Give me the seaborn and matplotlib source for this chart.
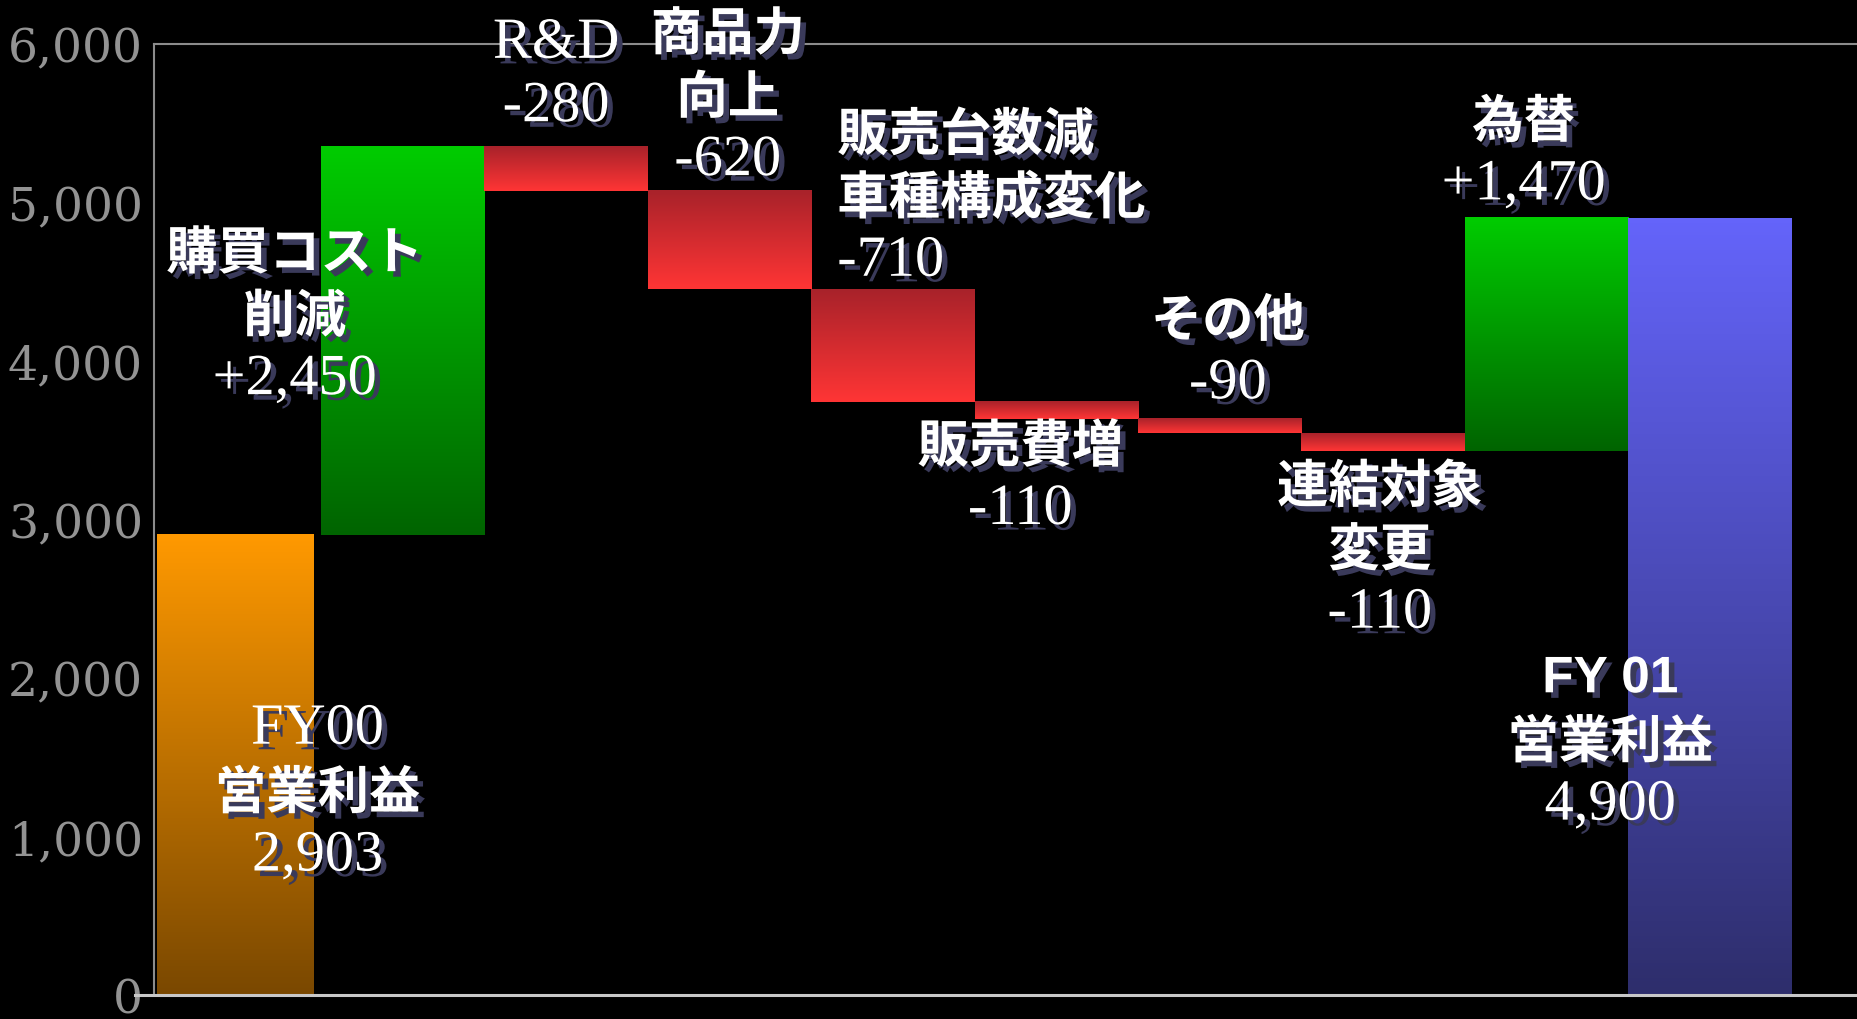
import numpy as np
import pandas as pd
import matplotlib
matplotlib.use("Agg")
import matplotlib.pyplot as plt
import matplotlib.patheffects as pe
from matplotlib.colors import LinearSegmentedColormap
import seaborn as sns

# data
steps = ["FY00営業利益", "購買コスト削減", "R&D", "商品力向上", "販売台数減車種構成変化",
         "販売費増", "その他", "連結対象変更", "為替", "FY01営業利益"]
deltas = [2903, 2450, -280, -620, -710, -110, -90, -110, 1470, 4900]
kinds = ["total", "up", "down", "down", "down", "down", "down", "down", "up", "total"]
titles = [["FY00", "営業利益"], ["購買コスト", "削減"], ["R&D"], ["商品力", "向上"],
          ["販売台数減", "車種構成変化"], ["販売費増"], ["その他"], ["連結対象", "変更"],
          ["為替"], ["FY 01", "営業利益"]]
yticks = [0, 1000, 2000, 3000, 4000, 5000, 6000]

# label anchors (x, y of first line, alignment)
anchors = [(0.48, 1674, "center"), (0.34, 4679, "center"), (1.94, 6001, "center"),
           (2.99, 6061, "center"), (3.66, 5426, "left"), (4.78, 3460, "center"),
           (6.05, 4253, "center"), (6.98, 3206, "center"), (7.86, 5508, "center"),
           (8.39, 1995, "center")]
LINE = 400

grad = {
    "total0": ("#ff9900", "#7a4800"),
    "up": ("#00cc00", "#006400"),
    "down": ("#a8222a", "#ff3535"),
    "total1": ("#6464fa", "#2e2e6c"),
}

JP = ["Noto Sans CJK JP", "DejaVu Sans"]
SERIF = ["Liberation Serif", "DejaVu Serif"]


def waterfall(df):
    fig = plt.figure(figsize=(18.57, 10.2), dpi=100, facecolor="black")
    ax = fig.add_axes([0.083, 0.0235, 0.917, 0.9324])
    ax.set_facecolor("black")

    sns.barplot(data=df, x="step", y="top", order=steps, width=1.0, color="white", ax=ax)

    for i, (patch, row) in enumerate(zip(ax.patches, df.itertuples())):
        patch.set_y(row.bottom)
        patch.set_height(row.top - row.bottom)
        patch.set_facecolor("none")
        patch.set_edgecolor("none")
        key = row.kind
        if key == "total":
            key = "total0" if i == 0 else "total1"
        cmap = LinearSegmentedColormap.from_list(key, grad[key])
        x0 = patch.get_x()
        x1 = x0 + patch.get_width()
        if i == 0:
            x1 -= 0.04  # small gap after the first bar
        ax.imshow(np.linspace(0, 1, 256).reshape(-1, 1), cmap=cmap, aspect="auto",
                  extent=(x0, x1, row.bottom, row.top), origin="upper",
                  interpolation="bicubic", zorder=2)

    ax.set_xlim(-0.52, 9.9)
    ax.set_ylim(0, 6000)
    ax.set_aspect("auto")
    ax.set_xlabel("")
    ax.set_ylabel("")
    ax.set_xticks([])
    ax.set_yticks(yticks)
    ax.set_yticklabels([f"{v:,}" for v in yticks], family="DejaVu Serif",
                       fontsize=34, color="#939393")
    ax.tick_params(axis="y", direction="inout", length=12, width=1.5,
                   color="#8c8c8c", pad=2)
    ax.grid(False)

    for side in ["left", "top"]:
        ax.spines[side].set_visible(True)
        ax.spines[side].set_color("#8c8c8c")
        ax.spines[side].set_linewidth(1.5)
    ax.spines["bottom"].set_color("#c8c8c8")
    ax.spines["bottom"].set_linewidth(2.2)
    ax.spines["bottom"].set_bounds(-0.64, 9.9)
    ax.spines["right"].set_visible(False)

    shadow = [pe.withSimplePatchShadow(offset=(4, -4), shadow_rgbFace="#3a3a5a", alpha=1.0)]

    for i, row in enumerate(df.itertuples()):
        x, y, ha = anchors[i]
        lines = titles[i] + [row.value_text]
        for j, line in enumerate(lines):
            is_value = j == len(lines) - 1
            if is_value or line in ("FY00", "R&D"):
                fam, wt, fs = SERIF, "normal", 42
            elif line == "FY 01":
                fam, wt, fs = ["Liberation Sans", "DejaVu Sans"], "bold", 37
            else:
                fam, wt, fs = JP, "bold", 37
            ax.text(x, y - j * LINE, line, ha=ha, va="center", family=fam,
                    fontweight=wt, fontsize=fs, color="white", zorder=5,
                    clip_on=False, path_effects=shadow)

    fig.savefig("out.png", dpi=100, facecolor="black")
    plt.close(fig)


def main():
    sns.set_style("dark")
    bottoms, tops, texts = [], [], []
    running = 0
    for d, k in zip(deltas, kinds):
        if k == "total":
            bottoms.append(0)
            tops.append(d)
            running = d
            texts.append(f"{d:,}")
        else:
            bottoms.append(min(running, running + d))
            tops.append(max(running, running + d))
            running += d
            texts.append(f"{d:+,}")
    df = pd.DataFrame({"step": steps, "delta": deltas, "kind": kinds,
                       "bottom": bottoms, "top": tops, "value_text": texts})
    waterfall(df)


if __name__ == "__main__":
    main()
